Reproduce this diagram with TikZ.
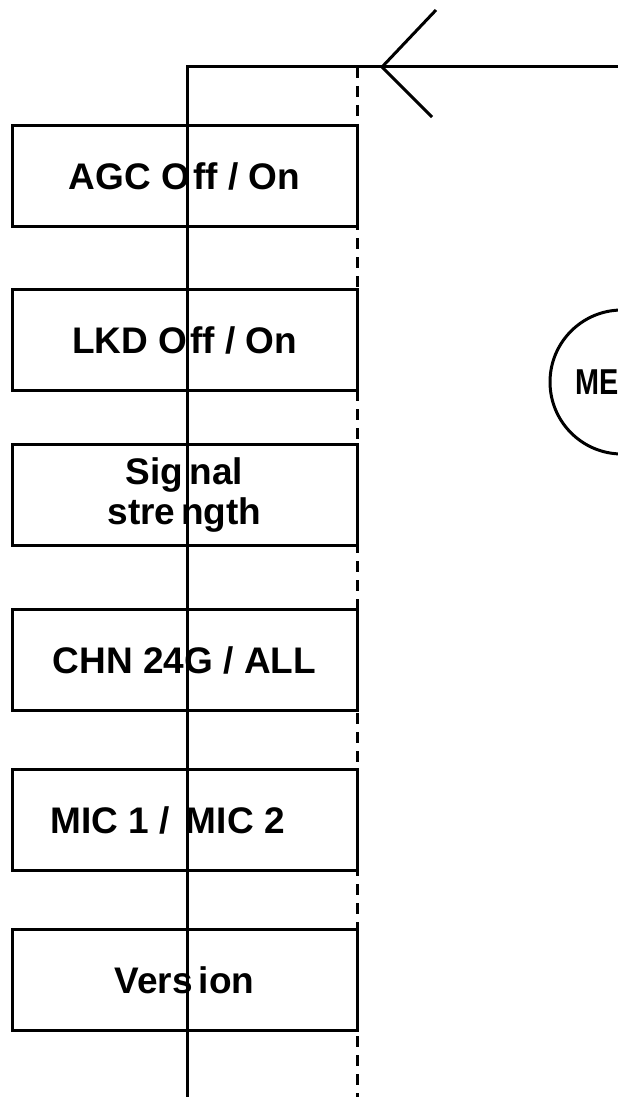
\documentclass[tikz,border=0pt]{standalone}
\usepackage{fontspec}
\setmainfont{Liberation Sans}
\newfontfamily\narrowfont{Liberation Sans Bold}[FakeStretch=0.8]
\usetikzlibrary{positioning}

\begin{document}
\begin{tikzpicture}[x=1pt, y=-1pt,
    box/.style={draw, line width=3pt, minimum width=345pt, minimum height=101pt, inner sep=0pt, align=center, font=\fontsize{37}{40}\selectfont\bfseries},
    spine/.style={line width=3pt},
    guide/.style={line width=3pt, dash pattern=on 11pt off 8pt}
]
\clip (0,0) rectangle (618,1097);
\node[box] (agc) at (184.5,176) {AGC O\kern3pt ff / On};
\node[box] (lkd) at (184.5,340) {LKD O\kern3pt ff / On};
\node[box] (sig) at (184.5,495) {Sig\kern6pt nal\\stre\kern6pt ngth};
\node[box] (chn) at (184.5,660) {CHN 24G / ALL};
\node[box] (mic) at (184.5,820) {\hspace*{-34pt}MIC 1 /\kern6pt{} MIC 2};
\node[box] (ver) at (184.5,980) {Vers\kern6pt ion};
\node[draw, circle, line width=3pt, minimum size=144pt, inner sep=0pt, font=\fontsize{36}{40}\narrowfont] (menu) at (622,382) {\hspace*{-9pt}MENU};
% spine and dashed guide
\coordinate (spinetop) at (187,67);
\coordinate (spinebot) at (187,1097);
\coordinate (guidetop) at (357,67);
\coordinate (guidebot) at (357,1097);
\coordinate (tip) at (382,67);
\coordinate (lineend) at (618,67);
\draw[spine] (spinebot) -- (spinetop) -- (lineend);
\draw[guide] (guidetop) -- (guidebot);
\draw[spine] ([shift={(54,-57)}]tip) -- (tip) -- ([shift={(50,50)}]tip);
\end{tikzpicture}
\end{document}
